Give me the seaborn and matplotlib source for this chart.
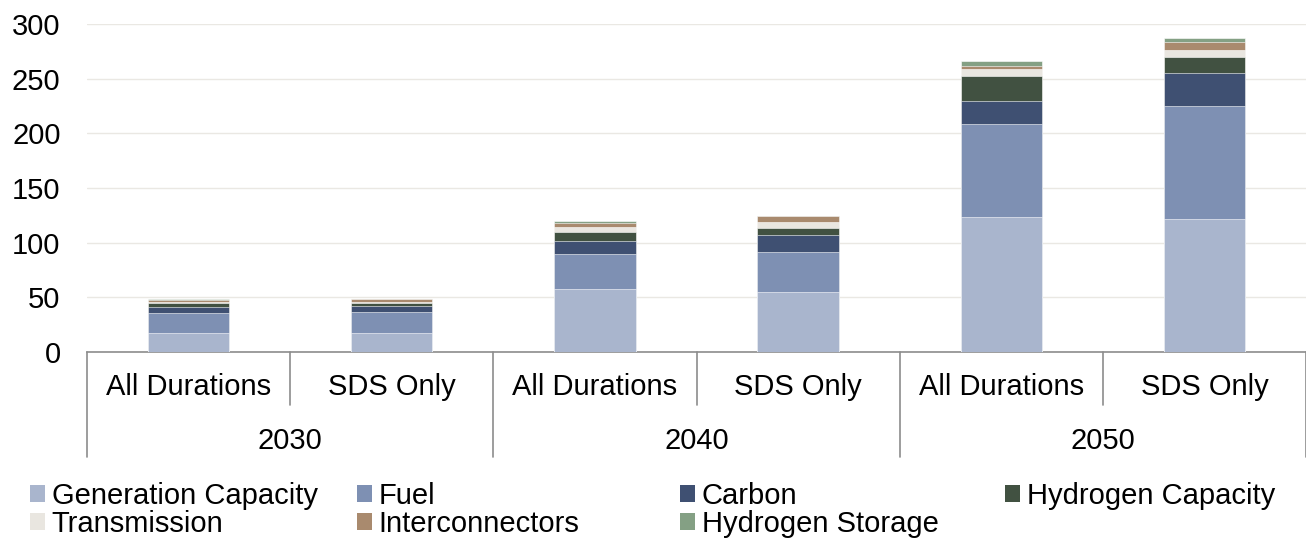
import numpy as np
import pandas as pd
import matplotlib
matplotlib.use('Agg')
import matplotlib.pyplot as plt
from matplotlib.patches import Patch
import seaborn as sns

# categories
years = ['2030', '2040', '2050']
scenarios = ['All Durations', 'SDS Only']

# series values (one entry per bar: 2030 All, 2030 SDS, 2040 All, 2040 SDS, 2050 All, 2050 SDS)
generation_capacity = [17.1, 17.7, 57.9, 54.9, 123.8, 122.0]
fuel = [18.9, 18.9, 31.7, 36.9, 84.7, 103.0]
carbon = [4.9, 5.5, 11.6, 14.9, 20.8, 29.9]
hydrogen_capacity = [3.6, 3.0, 8.6, 7.0, 23.5, 15.2]
transmission = [1.2, 0.6, 4.5, 5.2, 5.8, 5.8]
interconnectors = [2.2, 2.5, 4.0, 5.2, 3.3, 7.3]
hydrogen_storage = [0.3, 0.0, 1.5, 0.0, 4.3, 3.7]

series_names = ['Generation Capacity', 'Fuel', 'Carbon', 'Hydrogen Capacity',
                'Transmission', 'Interconnectors', 'Hydrogen Storage']
series_values = [generation_capacity, fuel, carbon, hydrogen_capacity,
                 transmission, interconnectors, hydrogen_storage]
colors = ['#A9B5CD', '#7E90B3', '#3F5072', '#415141',
          '#E9E6E0', '#A98A6E', '#84A084']

yticks = [0, 50, 100, 150, 200, 250, 300]

sns.set_style('white')
plt.rcParams['font.family'] = ['Liberation Sans', 'DejaVu Sans']
plt.rcParams['text.color'] = 'black'

bar_ids = [f'{y} {s}' for y in years for s in scenarios]
df = pd.DataFrame({name: vals for name, vals in zip(series_names, series_values)})
df['bar'] = bar_ids
cum = df[series_names].cumsum(axis=1)

fig = plt.figure(figsize=(13.06, 5.39), dpi=100)
ax = fig.add_axes([87 / 1306, 1 - 352 / 539, 1 - 87 / 1306, (352 - 24) / 539])

# stacked bars: draw cumulative totals from the top series down
for name, color in reversed(list(zip(series_names, colors))):
    sns.barplot(x=bar_ids, y=cum[name].values, color=color, width=0.40,
                edgecolor='white', linewidth=0.4, ax=ax, saturation=1, zorder=3)

ax.set_xlim(-0.5, 5.5)
ax.set_ylim(0, 300)
ax.set_yticks(yticks)
ax.yaxis.grid(True, color='#EAE8E3', linewidth=1.0, zorder=0)
ax.set_axisbelow(True)
ax.tick_params(axis='y', labelsize=21, length=0, pad=19, labelcolor='black')
ax.set_xticks([])
ax.set_xlabel('')
ax.set_ylabel('')
for s in ['top', 'right', 'left']:
    ax.spines[s].set_visible(False)
ax.spines['bottom'].set_color('#8C8C8C')
ax.spines['bottom'].set_linewidth(1.2)

# hierarchical category axis
trans = ax.get_xaxis_transform()
inner_h = (405 - 352) / (352 - 24)
outer_h = (457 - 352) / (352 - 24)
for i, lab in enumerate(bar_ids):
    ax.text(i, -(387 - 352) / (352 - 24), scenarios[i % 2], transform=trans,
            ha='center', va='center', fontsize=21)
for j, yr in enumerate(years):
    ax.text(2 * j + 0.5, -(441 - 352) / (352 - 24), yr, transform=trans,
            ha='center', va='center', fontsize=21)
for k in range(7):
    xpos = k - 0.5
    h = outer_h if k % 2 == 0 else inner_h
    ax.plot([xpos, xpos], [0, -h], transform=trans, color='#8C8C8C',
            linewidth=1.2, clip_on=False)

# legend laid out in four evenly spaced columns
handles = [Patch(facecolor=c, edgecolor='none') for c in colors]
columns = [[0, 4], [1, 5], [2, 6], [3]]
col_x = [30, 357, 680, 1005]
for cx, idx in zip(col_x, columns):
    fig.legend([handles[i] for i in idx], [series_names[i] for i in idx],
               loc='upper left', bbox_to_anchor=(cx / 1306, 1 - 482 / 539),
               frameon=False, fontsize=21, handlelength=0.5, handleheight=0.5,
               handletextpad=0.25, labelspacing=0.0, borderpad=0, borderaxespad=0)

fig.savefig('out.png', dpi=100)
